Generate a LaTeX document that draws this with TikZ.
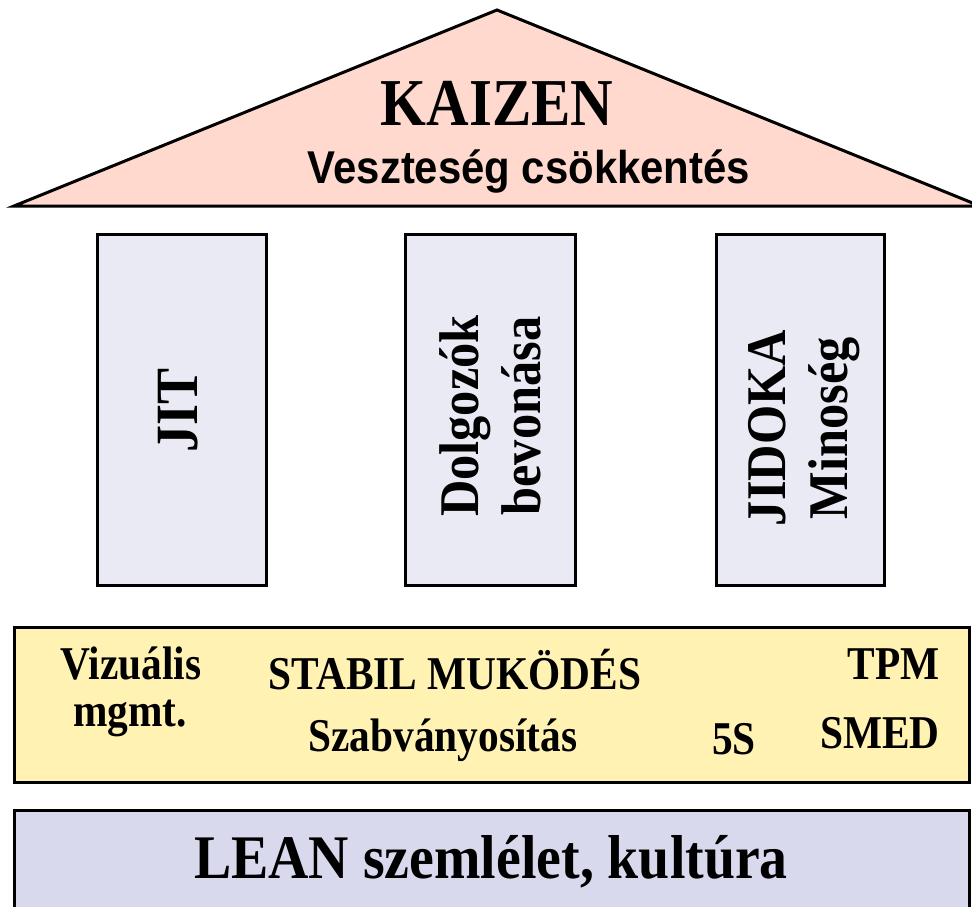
\documentclass[tikz,border=0pt]{standalone}
\usepackage{fontspec}
\setmainfont{Liberation Serif}
\newfontfamily\arialf{Liberation Sans}
\newcommand{\sqz}[1]{\scalebox{0.9}[1]{#1}}
\definecolor{roofc}{HTML}{FFD9CE}
\definecolor{pillarc}{HTML}{EAEAF5}
\definecolor{bandc}{HTML}{FFF2B3}
\definecolor{basec}{HTML}{D9D9EE}
\tikzset{
  part/.style={draw=black, line width=3pt, line join=miter},
  txt/.style={inner sep=0pt, anchor=base, font=\bfseries},
  ptxt/.style={inner sep=0pt, rotate=90, align=center, font=\bfseries},
}
\begin{document}
\begin{tikzpicture}[x=1pt,y=-1pt]
\useasboundingbox (0,0) rectangle (972,906);
\clip (0,0) rectangle (972,906);
% roof
\draw[part, fill=roofc] (14,206) -- (497,10) -- (980,206) -- cycle;
\node[txt, font=\bfseries\fontsize{67}{70}\selectfont] (kaizen) at (497,125) {\scalebox{0.88}[1]{KAIZEN}};
\node[txt, font=\arialf\bfseries\fontsize{46}{50}\selectfont] (veszt) at (529,183) {\scalebox{0.91}[1]{Veszteség csökkentés}};
% pillars
\node[part, fill=pillarc, minimum width=169pt, minimum height=351pt, inner sep=0pt] (jitbox) at (181.5,409.5) {};
\node[part, fill=pillarc, minimum width=170pt, minimum height=351pt, inner sep=0pt] (dolgbox) at (490,409.5) {};
\node[part, fill=pillarc, minimum width=168pt, minimum height=351pt, inner sep=0pt] (jidbox) at (800,409.5) {};
\node[ptxt, font=\bfseries\fontsize{60}{62}\selectfont] (jit) at (178,410) {\sqz{JIT}};
\node[ptxt, font=\bfseries\fontsize{56}{62}\selectfont] (dolg) at (490,416) {\sqz{Dolgozók}\\\sqz{bevonása}};
\node[ptxt, font=\bfseries\fontsize{56}{62}\selectfont] (jid) at (804,428) {\sqz{JIDOKA}\\\sqz{Minoség}};
% band
\node[part, fill=bandc, minimum width=955pt, minimum height=155pt, inner sep=0pt] (band) at (491.5,704.5) {};
\begin{scope}[every node/.style={txt, font=\bfseries\fontsize{47}{50}\selectfont}]
\node (viz) at (131,679) {\scalebox{0.88}[1]{Vizuális}};
\node (mgmt) at (130,726) {\scalebox{0.88}[1]{mgmt.}};
\node (stabil) at (455,689) {\scalebox{0.88}[1]{STABIL MUKÖDÉS}};
\node[anchor=base east] (tpm) at (940,679) {\scalebox{0.88}[1]{TPM}};
\node (szab) at (443,751) {\scalebox{0.88}[1]{Szabványosítás}};
\node (fives) at (734,754) {\scalebox{0.88}[1]{5S}};
\node[anchor=base east] (smed) at (940,748) {\scalebox{0.88}[1]{SMED}};
\end{scope}
% base
\draw[part, fill=basec] (14,810) rectangle (969,915);
\node[txt, font=\bfseries\fontsize{62}{66}\selectfont] (lean) at (491,878) {\sqz{LEAN szemlélet, kultúra}};
\end{tikzpicture}
\end{document}
